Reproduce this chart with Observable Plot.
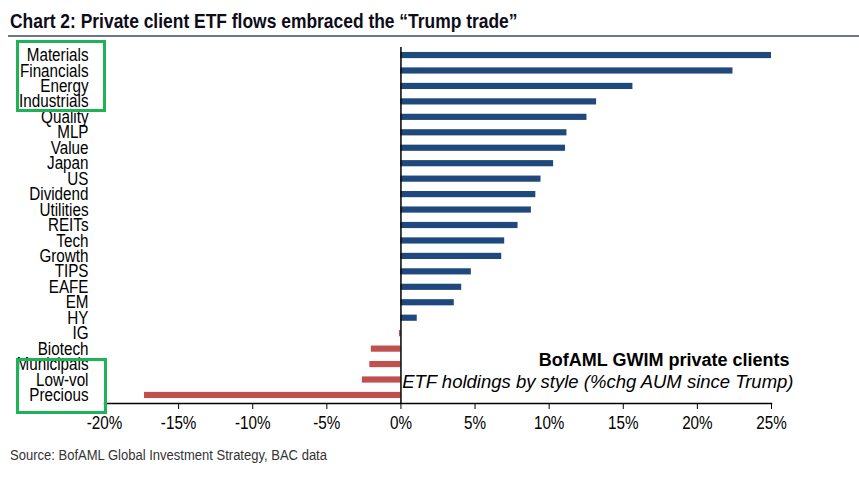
<!DOCTYPE html>
<html>
<head>
<meta charset="utf-8">
<script src="https://cdn.jsdelivr.net/npm/d3@7"></script>
<script src="https://cdn.jsdelivr.net/npm/@observablehq/plot@0.6"></script>
<style>
  html, body { margin: 0; padding: 0; background: #fff; }
  #wrap { position: relative; width: 859px; height: 479px; overflow: hidden; background: #fff; }
  #title {
    position: absolute; left: 10px; top: 9px; transform-origin: 0 50%;
    font-family: "Liberation Sans", Arial, sans-serif;
    font-weight: bold; font-size: 21px; line-height: 24px; color: #0d0d1a; white-space: nowrap;
  }
  #title-rule { position: absolute; left: 8px; right: 0; top: 35px; height: 2px; background: #6b7787; }
  #chart { position: absolute; left: 0; top: 45px; }
  #source {
    position: absolute; left: 10px; top: 446px; transform-origin: 0 50%;
    font-family: "Liberation Sans", Arial, sans-serif;
    font-size: 14px; line-height: 18px; color: #333; white-space: nowrap;
  }
  .hl { position: absolute; border: 3px solid #1db356; box-sizing: border-box; }
</style>
</head>
<body>
<div id="wrap">
  <div id="title">Chart 2: Private client ETF flows embraced the “Trump trade”</div>
  <div id="title-rule"></div>
  <div id="chart"></div>
  <div id="source">Source: BofAML Global Investment Strategy, BAC data</div>
  <div class="hl" style="left:16px; top:40px; width:90px; height:72px;"></div>
  <div class="hl" style="left:16px; top:358px; width:91px; height:56px;"></div>
</div>
<script>
// ETF styles, top to bottom, and % change in AUM since the election
const categories = [
  "Materials", "Financials", "Energy", "Industrials", "Quality", "MLP", "Value",
  "Japan", "US", "Dividend", "Utilities", "REITs", "Tech", "Growth", "TIPS",
  "EAFE", "EM", "HY", "IG", "Biotech", "Municipals", "Low-vol", "Precious"
];
const values = [
  25.0, 22.4, 15.65, 13.2, 12.55, 11.2, 11.1,
  10.3, 9.45, 9.1, 8.8, 7.9, 7.0, 6.8, 4.75,
  4.1, 3.6, 1.1, -0.1, -2.0, -2.1, -2.6, -17.3
];
const xTicks = [-20, -15, -10, -5, 0, 5, 10, 15, 20, 25];
const noteTitle = ["BofAML GWIM private clients"];
const noteSubtitle = ["ETF holdings by style (%chg AUM since Trump)"];

const rows = categories.map((category, i) => ({
  category,
  value: values[i],
  sign: values[i] < 0 ? "down" : "up"
}));

const sans = "'Liberation Sans', Arial, sans-serif";

const chart = Plot.plot({
  width: 859,
  height: 395,
  marginLeft: 104,
  marginRight: 88,
  marginTop: 2,
  marginBottom: 37,
  style: { fontFamily: sans, fontSize: "17px", color: "#000", background: "transparent", overflow: "visible" },
  x: { domain: [-20, 25], label: null },
  y: { domain: categories, paddingInner: 0.6, paddingOuter: 0.32, round: false, label: null },
  color: { domain: ["up", "down"], range: ["#1f497d", "#c0504d"] },
  marks: [
    Plot.barX(rows, { y: "category", x: "value", fill: "sign" }),
    Plot.ruleX([0], { stroke: "#000", strokeWidth: 1.5 }),
    Plot.frame({ anchor: "bottom", stroke: "#000", strokeWidth: 1.5 }),
    Plot.axisY({ tickSize: 0, tickPadding: 16, fontSize: 17.5, label: null }),
    Plot.axisX({ ticks: xTicks, tickSize: 6, tickPadding: 7, tickFormat: d => d + "%", fontSize: 17.5, label: null }),
    Plot.text(noteTitle, { frameAnchor: "bottom-right", dx: 18, dy: -38, fontWeight: "bold", fontSize: 18 }),
    Plot.text(noteSubtitle, { frameAnchor: "bottom-right", dx: 22, dy: -16, fontStyle: "italic", fontSize: 18.5 })
  ]
});
document.getElementById("chart").appendChild(chart);

// Narrow the axis tick labels horizontally, in the manner of Arial Narrow
function condense(svg, factor) {
  svg.querySelectorAll('g[aria-label$="tick label"] text').forEach(t => {
    const len = t.getComputedTextLength();
    if (len > 0) {
      t.setAttribute("textLength", (len * factor).toFixed(2));
      t.setAttribute("lengthAdjust", "spacingAndGlyphs");
    }
  });
}
condense(chart, 0.87);

// Title and source use a condensed face too
function squeeze(el, factor) {
  el.style.transform = `scaleX(${factor})`;
}
squeeze(document.getElementById("title"), 0.83);
squeeze(document.getElementById("source"), 0.93);
</script>
</body>
</html>
